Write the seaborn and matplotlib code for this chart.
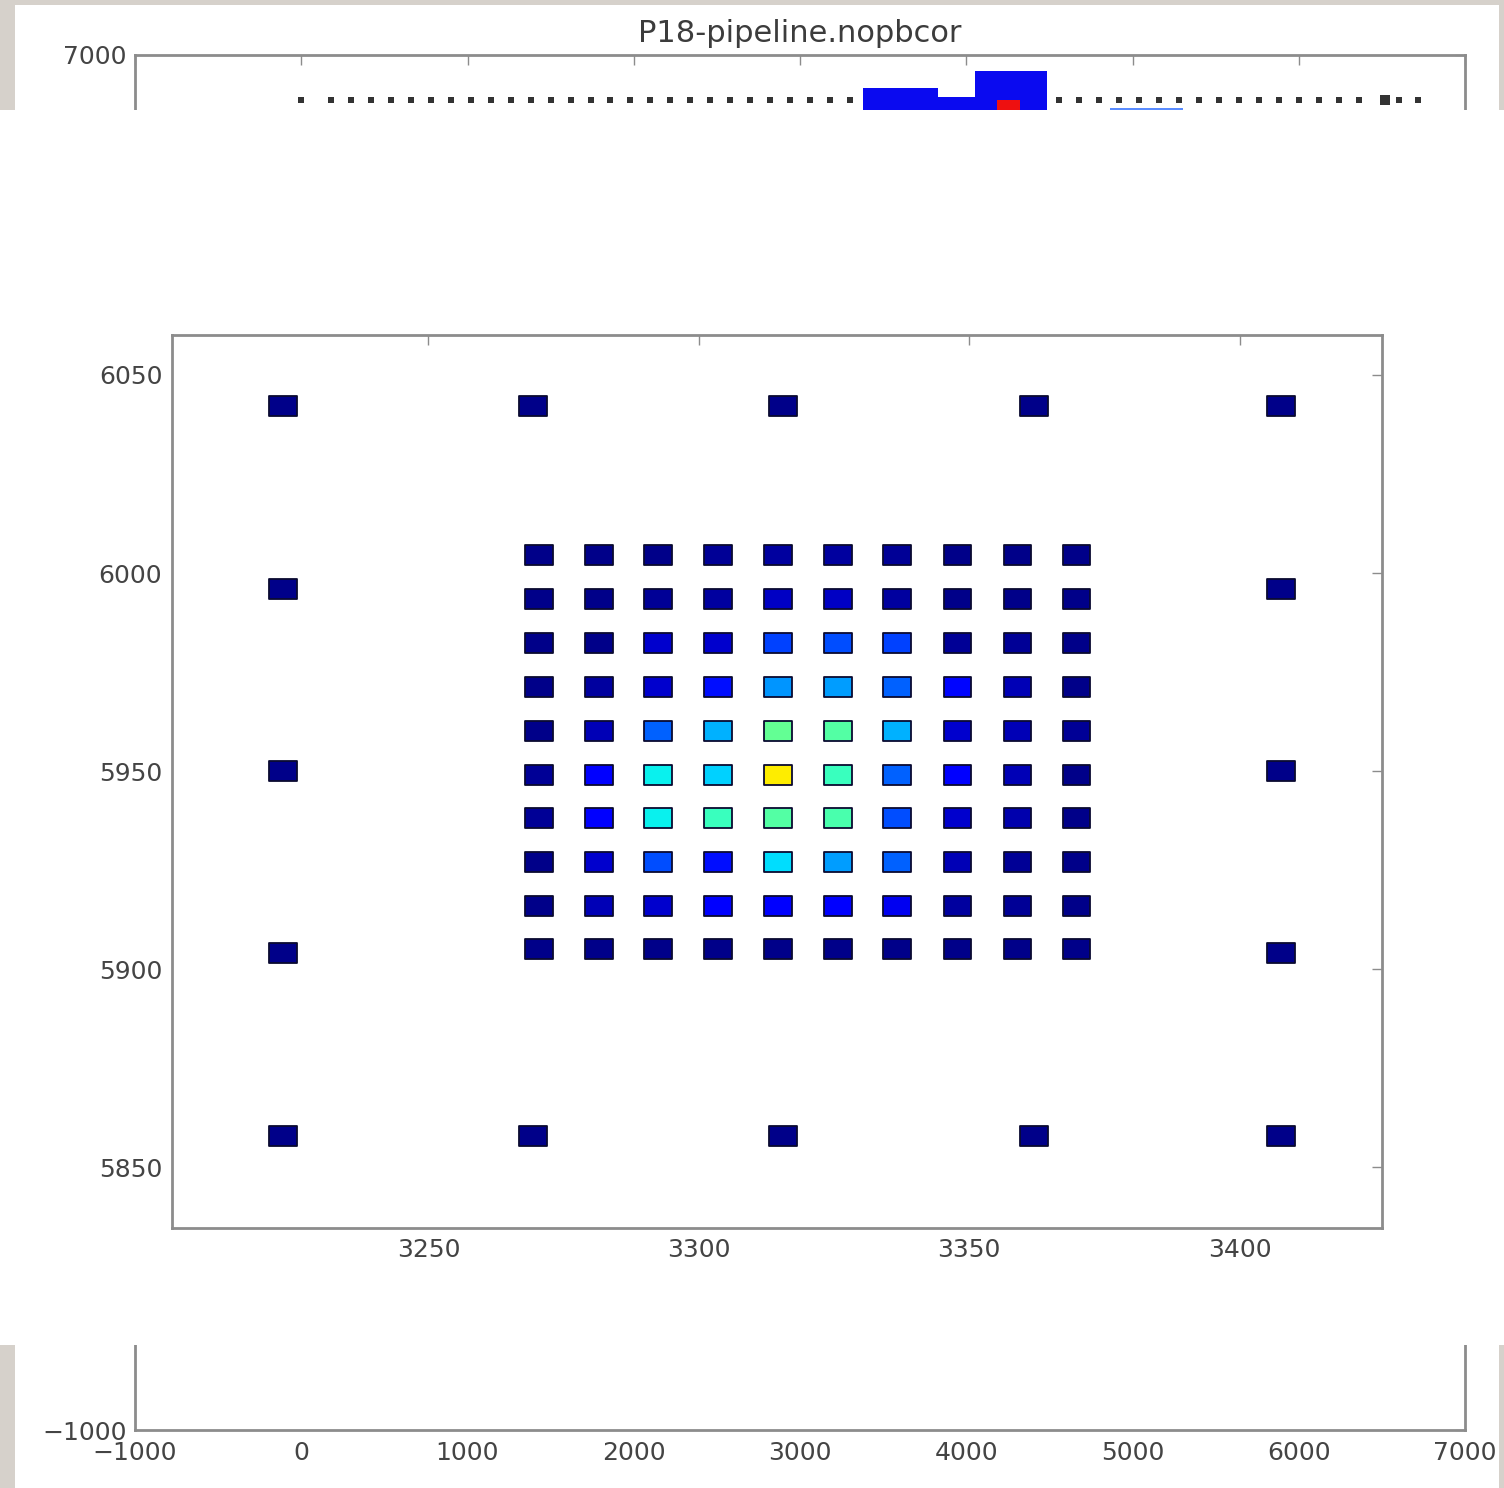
import numpy as np
import pandas as pd
import matplotlib
matplotlib.use("Agg")
import matplotlib.pyplot as plt
from matplotlib.patches import Rectangle
from matplotlib.path import Path
import seaborn as sns

# ---------------- data ----------------
title = "P18-pipeline.nopbcor"

# background (full-field) chart
outer_xticks = [-1000, 0, 1000, 2000, 3000, 4000, 5000, 6000, 7000]
outer_ylabels = [-1000, 7000]
row_dots_x = [0, 180, 300, 420, 540, 660, 780, 900, 1020, 1140, 1260, 1380, 1500,
              1620, 1740, 1860, 1980, 2100, 2220, 2340, 2460, 2580, 2700, 2820,
              2940, 3060, 3180, 3300, 4560, 4680, 4800, 4920, 5040, 5160, 5280,
              5400, 5520, 5640, 5760, 5880, 6000, 6120, 6240, 6360, 6600, 6720]
row_dots_y = 6738
big_dot_x = [6519]
blue_left = [3379, 3830, 4053]
blue_right = [3830, 4053, 4486]
blue_top = [6808, 6756, 6907]
red_left, red_right, red_top = 4185, 4323, 6738
lblue_left, lblue_right, lblue_top = 4865, 5304, 6692

# zoomed pointing grid
inset_xticks = [3250, 3300, 3350, 3400]
inset_yticks = [5850, 5900, 5950, 6000, 6050]
inner_x = [3270.4, 3281.5, 3292.4, 3303.5, 3314.6, 3325.7, 3336.7, 3347.8, 3358.9, 3369.8]
inner_y = [6004.5, 5993.4, 5982.3, 5971.2, 5960.1, 5949.0, 5938.1, 5927.0, 5915.9, 5905.1]
inner_val = [
    [0.01, 0.01, 0.01, 0.02, 0.03, 0.03, 0.02, 0.01, 0.01, 0.01],
    [0.01, 0.01, 0.02, 0.03, 0.06, 0.06, 0.03, 0.01, 0.01, 0.01],
    [0.01, 0.01, 0.07, 0.07, 0.19, 0.20, 0.19, 0.02, 0.02, 0.01],
    [0.01, 0.03, 0.07, 0.14, 0.27, 0.28, 0.22, 0.13, 0.05, 0.01],
    [0.01, 0.05, 0.22, 0.30, 0.47, 0.45, 0.30, 0.07, 0.05, 0.02],
    [0.02, 0.12, 0.36, 0.33, 0.66, 0.42, 0.22, 0.12, 0.05, 0.01],
    [0.02, 0.12, 0.36, 0.42, 0.45, 0.44, 0.20, 0.07, 0.04, 0.01],
    [0.01, 0.07, 0.20, 0.14, 0.34, 0.28, 0.22, 0.05, 0.02, 0.01],
    [0.01, 0.05, 0.07, 0.12, 0.12, 0.12, 0.10, 0.03, 0.02, 0.01],
    [0.01, 0.01, 0.01, 0.01, 0.01, 0.01, 0.01, 0.01, 0.01, 0.01],
]
outer_x = [3223.1, 3269.4, 3315.6, 3361.9, 3407.6]
outer_y = [6042.2, 5996.0, 5950.0, 5904.0, 5857.8]
outer_val = 0.01

# ---------------- build tables ----------------
rows = []
for j, yy in enumerate(inner_y):
    for i, xx in enumerate(inner_x):
        rows.append((xx, yy, inner_val[j][i]))
for j, yy in enumerate(outer_y):
    for i, xx in enumerate(outer_x):
        if i in (0, len(outer_x) - 1) or j in (0, len(outer_y) - 1):
            rows.append((xx, yy, outer_val))
df = pd.DataFrame(rows, columns=["ra", "dec", "flux"])

# ---------------- figure ----------------
sns.set_style("white")
plt.rcParams["font.family"] = ["DejaVu Sans"]
W, H = 1504, 1488
fig = plt.figure(figsize=(W / 100, H / 100), dpi=100)
fig.patch.set_facecolor("white")

GREY = "#d6d1cb"
SPINE = "#8c8c8c"
TXT = "#444444"

# background full-field axes
ax0 = fig.add_axes([135 / W, 1 - 1430 / H, 1330 / W, 1375 / H])
ax0.set_zorder(0)
ax0.set_xlim(-1000, 7000)
ax0.set_ylim(-1000, 7000)
ax0.scatter(row_dots_x, [row_dots_y] * len(row_dots_x), marker="s", s=24,
            color="#333333", linewidths=0)
ax0.scatter(big_dot_x, [row_dots_y], marker="s", s=45, color="#333333", linewidths=0)
for l, r, t in zip(blue_left, blue_right, blue_top):
    ax0.bar(l, t - 6000, bottom=6000, width=r - l, align="edge", color="#0a0af0", linewidth=0)
ax0.bar(red_left, red_top - 6000, bottom=6000, width=red_right - red_left,
        align="edge", color="#ee1010", linewidth=0, zorder=3)
ax0.bar(lblue_left, lblue_top - 6000, bottom=6000, width=lblue_right - lblue_left,
        align="edge", color="#5a8cff", linewidth=0)
ax0.set_xticks(outer_xticks)
ax0.set_xticklabels([str(v).replace("-", "\u2212") for v in outer_xticks])
ax0.set_yticks(outer_ylabels)
ax0.set_yticklabels([str(v).replace("-", "\u2212") for v in outer_ylabels])
ax0.tick_params(direction="in", length=7, width=1, colors=SPINE, labelcolor=TXT,
                labelsize=18, top=True, right=True, pad=6)
ax0.tick_params(axis="x", pad=8)
for s in ax0.spines.values():
    s.set_color(SPINE)
    s.set_linewidth(2.0)
ax0.set_title(title, fontsize=22, color="#3c3c3c", pad=9, fontweight="medium")

# grey photo border strips (outside of middle band)
for (x0, y0, w, h) in [(0, 0, 15, 1488), (1499, 0, 5, 1488), (0, 0, 1504, 5)]:
    fig.patches.append(Rectangle((x0 / W, 1 - (y0 + h) / H), w / W, h / H,
                                 transform=fig.transFigure, facecolor=GREY,
                                 edgecolor="none", zorder=1))
# white band that hides the middle of the background chart
fig.patches.append(Rectangle((0, 1 - 1345 / H), 1, (1345 - 110) / H,
                             transform=fig.transFigure, facecolor="white",
                             edgecolor="none", zorder=2))

# zoomed inset axes
ax = fig.add_axes([172 / W, 1 - 1228 / H, 1210 / W, 893 / H])
ax.set_zorder(3)
ax.set_facecolor("white")
rect = Path([(-1.38, -1), (1.38, -1), (1.38, 1), (-1.38, 1), (-1.38, -1)],
            [Path.MOVETO, Path.LINETO, Path.LINETO, Path.LINETO, Path.CLOSEPOLY])
sns.scatterplot(data=df, x="ra", y="dec", hue="flux", palette=matplotlib.colormaps["jet"],
                hue_norm=(0, 1), marker=rect, s=400, edgecolor="#0a0a30",
                linewidth=1.3, legend=False, ax=ax)
ax.set_xlim(3202.6, 3426.3)
ax.set_ylim(5834.6, 6060.1)
ax.set_xticks(inset_xticks)
ax.set_yticks(inset_yticks)
ax.set_xlabel("")
ax.set_ylabel("")
ax.tick_params(direction="in", length=7, width=1, colors=SPINE, labelcolor=TXT,
               labelsize=18, top=True, right=True, pad=7)
for s in ax.spines.values():
    s.set_color(SPINE)
    s.set_linewidth(2.0)

fig.savefig("out.png", dpi=100)
